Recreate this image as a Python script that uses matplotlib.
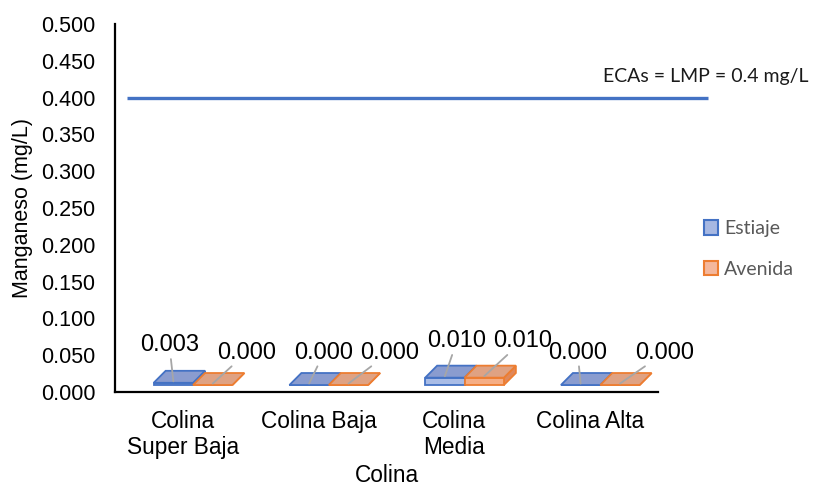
import matplotlib
matplotlib.use("Agg")
import matplotlib.pyplot as plt
from matplotlib.patches import Polygon, Patch

# Manganese concentration by hillside zone and season
zonas = ["Colina\nSuper Baja", "Colina Baja", "Colina\nMedia", "Colina Alta"]
estiaje = [0.003, 0.000, 0.010, 0.000]
avenida = [0.000, 0.000, 0.010, 0.000]
limite = 0.4
limite_txt = "ECAs = LMP = 0.4 mg/L"

# label offsets in pixels (label centre relative to the bar top)
off_estiaje = [(-4, 36), (15, 31), (12, 35), (-3, 31)]
off_avenida = [(34, 31), (41, 31), (38, 35), (45, 31)]

BASE = 0.0095        # raised floor of the 3D bars
DX, DY = 0.088, 0.0163  # depth offset of the bar tops
W = 0.29
SHIFT = 0.075

series = [
    ("Estiaje", estiaje, off_estiaje, "#4472C4", "#8A9CCF", "#A9BCE6", "#6E86C4", -W),
    ("Avenida", avenida, off_avenida, "#ED7D31", "#DFA283", "#F6AE85", "#E0885A", 0.0),
]

plt.rcParams["font.family"] = "Liberation Sans"
fig = plt.figure(figsize=(8.14, 4.87), dpi=100)
ax = fig.add_axes([115 / 814, 95 / 487, 543 / 814, 368 / 487])

x = list(range(len(zonas)))
for name, vals, offs, edge, top_c, front_c, side_c, start in series:
    for i, v in enumerate(vals):
        x0 = i + SHIFT + start
        x1 = x0 + W
        top = BASE + v
        # front face
        ax.bar(x0, v, W, bottom=BASE, align="edge", color=front_c,
               edgecolor=edge, linewidth=1.3, zorder=3)
        # right side face
        ax.add_patch(Polygon([(x1, BASE), (x1, top), (x1 + DX, top + DY),
                              (x1 + DX, BASE + DY)], closed=True,
                             facecolor=side_c, edgecolor=edge, linewidth=1.3,
                             zorder=2))
        # top face
        ax.add_patch(Polygon([(x0, top), (x1, top), (x1 + DX, top + DY),
                              (x0 + DX, top + DY)], closed=True,
                             facecolor=top_c, edgecolor=edge, linewidth=1.3,
                             zorder=4))
        ax.annotate(f"{v:.3f}", xy=((x0 + x1) / 2, top + 0.002),
                    xytext=offs[i], textcoords="offset pixels",
                    ha="center", va="center", fontsize=17, color="black",
                    arrowprops=dict(arrowstyle="-", color="#A6A6A6", lw=1.3,
                                    shrinkA=0, shrinkB=0),
                    zorder=5)

# regulatory limit line
ax.plot([-0.41, 3.87], [limite, limite], color="#4472C4", lw=2.4,
        clip_on=False, zorder=3, solid_capstyle="butt")
ax.text(3.855, limite + 0.029, limite_txt, ha="center", va="center",
        fontsize=14, family="Lato", color="#1a1a1a")

ax.set_xlim(-0.5, 3.5)
ax.set_ylim(0, 0.5)
ax.set_yticks([i * 0.05 for i in range(11)])
ax.set_yticklabels([f"{i * 0.05:.3f}" for i in range(11)])
ax.set_xticks(x)
ax.set_xticklabels(zonas, linespacing=1.15)
ax.tick_params(axis="y", length=0, pad=14, labelsize=15.5)
ax.tick_params(axis="x", length=0, pad=13, labelsize=16.3)
for s in ["top", "right"]:
    ax.spines[s].set_visible(False)
for s in ["left", "bottom"]:
    ax.spines[s].set_linewidth(1.6)
    ax.spines[s].set_color("black")

ax.set_xlabel("Colina", fontsize=16.3, labelpad=4)
ax.set_ylabel("Manganeso (mg/L)", fontsize=15.5, labelpad=6)

handles = [Patch(facecolor="#A7B8E2", edgecolor="#4472C4", linewidth=1.5),
           Patch(facecolor="#F4B79C", edgecolor="#ED7D31", linewidth=1.5)]
fig.legend(handles, ["Estiaje", "Avenida"], loc="center left",
           bbox_to_anchor=(686 / 814, 1 - 249 / 487), frameon=False,
           prop={"family": "Lato", "size": 14}, labelcolor="#595959",
           handlelength=0.75, handleheight=0.75, handletextpad=0.3,
           labelspacing=1.2)

fig.savefig("out.png", dpi=100)
